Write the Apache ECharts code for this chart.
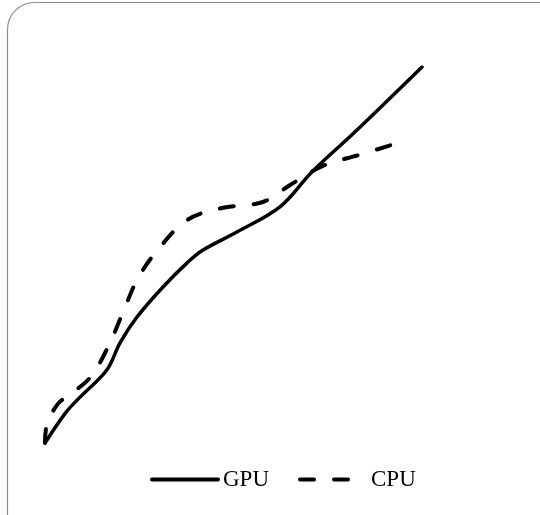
<!DOCTYPE html>
<html>
<head>
<meta charset="utf-8">
<script src="https://cdn.jsdelivr.net/npm/echarts@6/dist/echarts.min.js"></script>
<style>html,body{margin:0;padding:0;background:#fff}#c{width:540px;height:515px}</style>
</head>
<body>
<div id="c"></div>
<script>
const seriesNames = ['GPU', 'CPU'];
const gpuX = [0, 5.6, 9.3, 16.4, 19.9, 24.4, 31.3, 37.7, 41.9, 50.9, 62.3, 70.8, 82.2, 100];
const gpuY = [0, 8.2, 12.2, 19.4, 26.6, 33.5, 41.5, 47.9, 51.3, 56.1, 62.8, 72.1, 82.7, 100];
const cpuX = [0, 0.5, 3.4, 6.0, 11.9, 16.7, 20.7, 24.7, 30.5, 37.7, 46.9, 57.8, 65.0, 73.7, 83.3, 95.2];
const cpuY = [0, 5.0, 10.4, 12.5, 17.3, 25.5, 34.8, 43.9, 52.1, 59.3, 62.5, 64.1, 68.6, 73.7, 76.6, 80.3];

const pairs = (xs, ys) => xs.map((x, i) => [x, ys[i]]);
const chart = echarts.init(document.getElementById('c'), null, {renderer: 'canvas'});
chart.setOption({
  animation: false,
  backgroundColor: '#fff',
  graphic: [{
    type: 'rect',
    shape: {x: 7.5, y: 2.5, width: 560, height: 540, r: 27},
    style: {fill: 'none', stroke: '#8c8c8c', lineWidth: 1.2},
    z: -1
  }],
  grid: {left: 45, right: 118, top: 67, bottom: 72},
  xAxis: {type: 'value', min: 0, max: 100, show: false},
  yAxis: {type: 'value', min: 0, max: 100, show: false},
  legend: {
    show: true,
    top: 468,
    left: 150,
    padding: 0,
    itemWidth: 66,
    itemHeight: 14,
    itemGap: 29,
    itemStyle: {opacity: 0},
    lineStyle: {width: 4, cap: 'round'},
    textStyle: {fontFamily: 'Liberation Serif', fontSize: 23, color: '#000'},
    data: seriesNames
  },
  series: [
    {
      name: seriesNames[0], type: 'line', data: pairs(gpuX, gpuY),
      smooth: 0.35, showSymbol: false, symbol: 'none',
      lineStyle: {color: '#000', width: 3.5, cap: 'round', join: 'round'},
      itemStyle: {color: '#000'}
    },
    {
      name: seriesNames[1], type: 'line', data: pairs(cpuX, cpuY),
      smooth: 0.35, showSymbol: false, symbol: 'none',
      lineStyle: {color: '#000', width: 4, type: [14, 20], cap: 'round', join: 'round'},
      itemStyle: {color: '#000'}
    }
  ]
});
</script>
</body>
</html>
